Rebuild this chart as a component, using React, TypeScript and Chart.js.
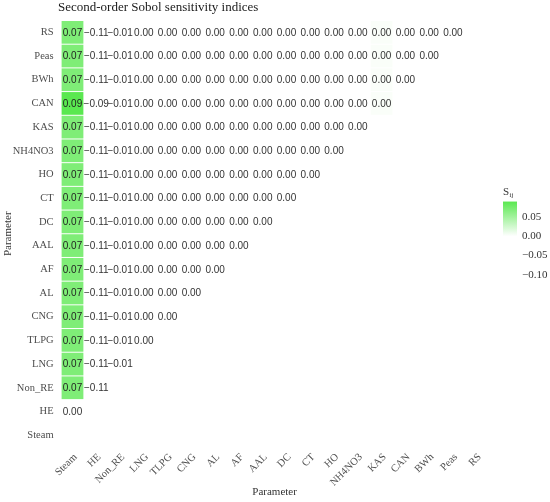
import React, { useEffect, useRef } from "react";
import { Chart, registerables } from "chart.js";

Chart.register(...registerables);

// Parameters in plotting order (bottom-up for rows, left-right for columns)
const parameters = ["Steam", "HE", "Non_RE", "LNG", "TLPG", "CNG", "AL", "AF", "AAL", "DC", "CT", "HO", "NH4NO3", "KAS", "CAN", "BWh", "Peas", "RS"];
const yLabelsTopDown = [...parameters].reverse();

// Second-order indices, one array per row, starting at the "Steam" column
const rowHE = [0.0];
const rowNonRE = [0.07, -0.11];
const rowLNG = [0.07, -0.11, -0.01];
const rowTLPG = [0.07, -0.11, -0.01, 0.0];
const rowCNG = [0.07, -0.11, -0.01, 0.0, 0.0];
const rowAL = [0.07, -0.11, -0.01, 0.0, 0.0, 0.0];
const rowAF = [0.07, -0.11, -0.01, 0.0, 0.0, 0.0, 0.0];
const rowAAL = [0.07, -0.11, -0.01, 0.0, 0.0, 0.0, 0.0, 0.0];
const rowDC = [0.07, -0.11, -0.01, 0.0, 0.0, 0.0, 0.0, 0.0, 0.0];
const rowCT = [0.07, -0.11, -0.01, 0.0, 0.0, 0.0, 0.0, 0.0, 0.0, 0.0];
const rowHO = [0.07, -0.11, -0.01, 0.0, 0.0, 0.0, 0.0, 0.0, 0.0, 0.0, 0.0];
const rowNH4NO3 = [0.07, -0.11, -0.01, 0.0, 0.0, 0.0, 0.0, 0.0, 0.0, 0.0, 0.0, 0.0];
const rowKAS = [0.07, -0.11, -0.01, 0.0, 0.0, 0.0, 0.0, 0.0, 0.0, 0.0, 0.0, 0.0, 0.0];
const rowCAN = [0.09, -0.09, -0.01, 0.0, 0.0, 0.0, 0.0, 0.0, 0.0, 0.0, 0.0, 0.0, 0.0, 0.003];
const rowBWh = [0.07, -0.11, -0.01, 0.0, 0.0, 0.0, 0.0, 0.0, 0.0, 0.0, 0.0, 0.0, 0.0, 0.003, 0.0];
const rowPeas = [0.07, -0.11, -0.01, 0.0, 0.0, 0.0, 0.0, 0.0, 0.0, 0.0, 0.0, 0.0, 0.0, 0.003, 0.0, 0.0];
const rowRS = [0.07, -0.11, -0.01, 0.0, 0.0, 0.0, 0.0, 0.0, 0.0, 0.0, 0.0, 0.0, 0.0, 0.003, 0.0, 0.0, 0.0];

const rowValues: number[][] = [[], rowHE, rowNonRE, rowLNG, rowTLPG, rowCNG, rowAL, rowAF, rowAAL, rowDC, rowCT, rowHO, rowNH4NO3, rowKAS, rowCAN, rowBWh, rowPeas, rowRS];

const legendTicks = [0.05, 0.0, -0.05, -0.1];
const legendMin = -0.11;
const legendMax = 0.09;

function fillFor(v: number): string {
  const t = Math.max(0, Math.min(1, v / legendMax));
  const r = Math.round(255 - 165 * t);
  const g = Math.round(255 - 23 * t);
  const b = Math.round(255 - 175 * t);
  return `rgb(${r},${g},${b})`;
}

function fmt(v: number): string {
  const s = Math.abs(v).toFixed(2);
  return v < 0 && s !== "0.00" ? "\u2212" + s : s;
}

const cells = rowValues.flatMap((vals, r) => vals.map((v, c) => ({ x: parameters[c], y: parameters[r], v })));

const heatmapPlugin = {
  id: "heatmap",
  beforeDatasetsDraw(chart: any) {
    const { ctx, scales } = chart;
    const xs = scales.x;
    const ys = scales.y;
    const w = Math.abs(xs.getPixelForValue(1) - xs.getPixelForValue(0));
    const h = Math.abs(ys.getPixelForValue(1) - ys.getPixelForValue(0));
    const meta = chart.getDatasetMeta(0);
    ctx.save();
    meta.data.forEach((el: any, i: number) => {
      const d = cells[i];
      ctx.fillStyle = fillFor(d.v);
      ctx.fillRect(el.x - w / 2 + 1, el.y - h / 2 + 0.5, w - 2, h - 1);
    });
    ctx.restore();
  },
  afterDatasetsDraw(chart: any) {
    const { ctx } = chart;
    const meta = chart.getDatasetMeta(0);
    ctx.save();
    ctx.font = "10px 'Liberation Sans', Arial, sans-serif";
    ctx.textAlign = "center";
    ctx.textBaseline = "middle";
    meta.data.forEach((el: any, i: number) => {
      ctx.fillStyle = cells[i].v > 0.02 ? "#1f1f1f" : "#333333";
      ctx.fillText(fmt(cells[i].v), el.x, el.y + 0.5);
    });
    ctx.restore();
  },
  afterDraw(chart: any) {
    const { ctx } = chart;
    ctx.save();
    // title
    ctx.font = "13px 'Liberation Serif', 'Times New Roman', serif";
    ctx.fillStyle = "#1a1a1a";
    ctx.textAlign = "left";
    ctx.textBaseline = "middle";
    ctx.fillText("Second-order Sobol sensitivity indices", 58, 8);

    // colour bar legend
    const barX = 503;
    const barW = 14;
    const y005 = 217;
    const pxPerUnit = 19.3 / 0.05;
    const yOf = (v: number) => y005 - (v - 0.05) * pxPerUnit;
    const yTop = yOf(legendMax);
    const yBot = yOf(legendMin);
    const grad = ctx.createLinearGradient(0, yTop, 0, yBot);
    const steps = 20;
    for (let i = 0; i <= steps; i++) {
      const v = legendMax - ((legendMax - legendMin) * i) / steps;
      grad.addColorStop(i / steps, fillFor(v));
    }
    ctx.fillStyle = grad;
    ctx.fillRect(barX, yTop, barW, yBot - yTop);

    ctx.fillStyle = "#333333";
    ctx.font = "11px 'Liberation Serif', 'Times New Roman', serif";
    ctx.textAlign = "left";
    ctx.textBaseline = "middle";
    ctx.fillText("S", barX, 192);
    ctx.font = "7px 'Liberation Serif', 'Times New Roman', serif";
    ctx.fillText("ij", barX + 6.5, 195);
    ctx.font = "11px 'Liberation Serif', 'Times New Roman', serif";
    legendTicks.forEach((t) => {
      ctx.fillText(t < 0 ? "\u2212" + Math.abs(t).toFixed(2) : t.toFixed(2), barX + 19, yOf(t));
    });
    ctx.restore();
  },
};

export default function App() {
  const canvasRef = useRef<HTMLCanvasElement | null>(null);

  useEffect(() => {
    if (!canvasRef.current) return;
    const serif = "'Liberation Serif', 'Times New Roman', serif";
    const chart = new Chart(canvasRef.current, {
      type: "scatter",
      data: {
        datasets: [
          {
            data: cells.map((c) => ({ x: c.x, y: c.y })) as any,
            pointRadius: 0,
            pointHoverRadius: 0,
          },
        ],
      },
      options: {
        responsive: false,
        animation: false,
        events: [],
        layout: { padding: { left: 0, right: 61.4, top: 20.5, bottom: 0 } },
        plugins: {
          legend: { display: false },
          tooltip: { enabled: false },
          title: { display: false },
        },
        scales: {
          x: {
            type: "category",
            labels: parameters,
            offset: true,
            grid: { display: false, drawTicks: false },
            border: { display: false },
            ticks: {
              autoSkip: false,
              maxRotation: 45,
              minRotation: 45,
              padding: 4,
              labelOffset: 3,
              color: "#4d4d4d",
              font: { family: serif, size: 10.5 },
            },
            title: {
              display: true,
              text: "Parameter",
              color: "#333333",
              font: { family: serif, size: 11 },
              padding: { top: 0, bottom: 3 },
            },
            afterFit: (s: any) => {
              s.height = 55;
            },
          },
          y: {
            type: "category",
            labels: yLabelsTopDown,
            offset: true,
            grid: { display: false, drawTicks: false },
            border: { display: false },
            ticks: {
              autoSkip: false,
              padding: 7,
              color: "#4d4d4d",
              font: { family: serif, size: 10.5 },
            },
            title: {
              display: true,
              text: "Parameter",
              color: "#333333",
              font: { family: serif, size: 11 },
              padding: { top: 2, bottom: 0 },
            },
            afterFit: (s: any) => {
              s.width = 60.6;
            },
          },
        },
      },
      plugins: [heatmapPlugin],
    });
    return () => chart.destroy();
  }, []);

  return (
    <div style={{ position: "absolute", left: 0, top: 0, width: 550, height: 502, background: "#ffffff" }}>
      <canvas ref={canvasRef} width={550} height={502} style={{ width: 550, height: 502, display: "block" }} />
    </div>
  );
}
